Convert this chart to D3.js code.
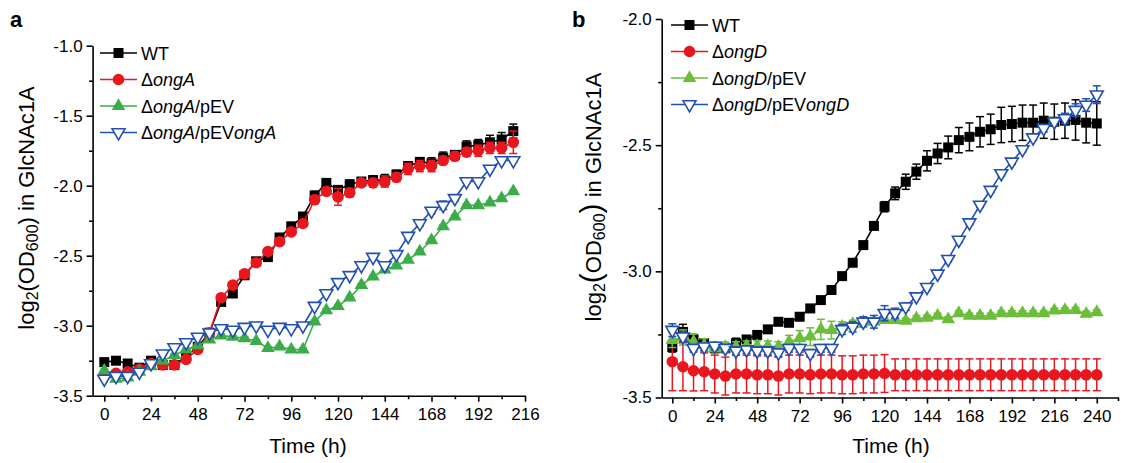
<!DOCTYPE html>
<html>
<head>
<meta charset="utf-8">
<script src="https://cdn.jsdelivr.net/npm/d3@7"></script>
<style>
  body { margin: 0; background: #fff; }
  text { font-family: "Liberation Sans", Arial, Helvetica, sans-serif; }
</style>
</head>
<body>
<div id="vis"></div>
<script>
// ---------- data, panel a ----------
var timeA = [0, 6, 12, 18, 24, 30, 36, 42, 48, 54, 60, 66, 72, 78, 84, 90, 96, 102,
             108, 114, 120, 126, 132, 138, 144, 150, 156, 162, 168, 174, 180, 186, 192, 198, 204, 210];
var wtA    = [-3.26, -3.25, -3.27, -3.30, -3.25, -3.28, -3.28, -3.22, -3.15, -3.05, -2.83, -2.77,
              -2.64, -2.54, -2.51, -2.37, -2.29, -2.22, -2.07, -1.98, -2.03, -1.99, -1.97, -1.96,
              -1.96, -1.92, -1.86, -1.83, -1.84, -1.80, -1.78, -1.72, -1.71, -1.69, -1.67, -1.61];
var wtAErr = [0.01, 0.01, 0.02, 0.01, 0.01, 0.02, 0.02, 0.02, 0.02, 0.01, 0.02, 0.02,
              0.02, 0.02, 0.02, 0.02, 0.02, 0.02, 0.03, 0.02, 0.03, 0.03, 0.02, 0.03,
              0.04, 0.03, 0.03, 0.03, 0.04, 0.04, 0.03, 0.04, 0.04, 0.05, 0.05, 0.05];
var ongA    = [-3.36, -3.34, -3.33, -3.31, -3.27, -3.28, -3.28, -3.24, -3.17, -3.05, -2.80, -2.71,
               -2.63, -2.55, -2.47, -2.40, -2.33, -2.27, -2.10, -2.04, -2.08, -2.05, -1.98, -1.98,
               -1.97, -1.94, -1.88, -1.86, -1.86, -1.82, -1.79, -1.76, -1.75, -1.73, -1.73, -1.69];
var ongAErr = [0.01, 0.01, 0.02, 0.02, 0.02, 0.02, 0.02, 0.02, 0.01, 0.01, 0.01, 0.01,
               0.01, 0.02, 0.01, 0.02, 0.01, 0.02, 0.03, 0.02, 0.06, 0.03, 0.02, 0.03,
               0.04, 0.03, 0.04, 0.04, 0.04, 0.03, 0.03, 0.03, 0.04, 0.04, 0.04, 0.08];
var ongApEV    = [-3.32, -3.38, -3.37, -3.33, -3.29, -3.25, -3.21, -3.17, -3.14, -3.10, -3.07, -3.08,
                  -3.09, -3.11, -3.16, -3.15, -3.17, -3.17, -2.97, -2.89, -2.86, -2.80, -2.71, -2.65,
                  -2.60, -2.57, -2.53, -2.47, -2.39, -2.29, -2.22, -2.14, -2.14, -2.12, -2.09, -2.04];
var ongApEVErr = [0.01, 0.01, 0.01, 0.01, 0.01, 0.01, 0.01, 0.01, 0.01, 0.01, 0.01, 0.01,
                  0.01, 0.01, 0.01, 0.01, 0.01, 0.01, 0.01, 0.01, 0.01, 0.01, 0.01, 0.01,
                  0.01, 0.01, 0.01, 0.01, 0.01, 0.01, 0.01, 0.01, 0.01, 0.01, 0.01, 0.01];
var ongApEVongA    = [-3.38, -3.36, -3.36, -3.33, -3.27, -3.20, -3.155, -3.12, -3.08, -3.05, -3.02, -3.03,
                      -3.01, -3.00, -3.03, -3.01, -3.02, -3.00, -2.86, -2.77, -2.69, -2.64, -2.57, -2.51,
                      -2.57, -2.49, -2.36, -2.27, -2.18, -2.14, -2.09, -1.97, -1.97, -1.88, -1.82, -1.82];
var ongApEVongAErr = [0.01, 0.01, 0.01, 0.01, 0.01, 0.01, 0.01, 0.01, 0.01, 0.01, 0.01, 0.01,
                      0.01, 0.01, 0.01, 0.01, 0.01, 0.01, 0.01, 0.01, 0.01, 0.01, 0.01, 0.01,
                      0.01, 0.01, 0.02, 0.02, 0.02, 0.03, 0.02, 0.01, 0.01, 0.01, 0.01, 0.01];

// ---------- data, panel b ----------
var timeB = [0, 6, 12, 18, 24, 30, 36, 42, 48, 54, 60, 66, 72, 78, 84, 90, 96, 102, 108, 114, 120,
             126, 132, 138, 144, 150, 156, 162, 168, 174, 180, 186, 192, 198, 204, 210, 216, 222, 228, 234, 240];
var wtB    = [-3.30, -3.24, -3.27, -3.285, -3.305, -3.305, -3.285, -3.27, -3.252, -3.23, -3.20,
              -3.204, -3.18, -3.147, -3.114, -3.074, -3.019, -2.966, -2.896, -2.82, -2.744,
              -2.691, -2.645, -2.605, -2.562, -2.533, -2.509, -2.48, -2.467, -2.447, -2.437,
              -2.42, -2.416, -2.411, -2.411, -2.403, -2.407, -2.403, -2.40, -2.411, -2.414];
var wtBErr = [0.02, 0.03, 0.02, 0.015, 0.01, 0.01, 0.02, 0.01, 0.01, 0.01, 0.01,
              0.01, 0.01, 0.01, 0.01, 0.01, 0.01, 0.01, 0.01, 0.015, 0.02,
              0.025, 0.03, 0.03, 0.04, 0.04, 0.045, 0.05, 0.055, 0.06, 0.06,
              0.07, 0.07, 0.07, 0.07, 0.07, 0.07, 0.07, 0.08, 0.08, 0.086];
var ongD    = [-3.358, -3.378, -3.394, -3.398, -3.407, -3.415, -3.407, -3.407, -3.41, -3.41, -3.415,
               -3.407, -3.407, -3.41, -3.407, -3.407, -3.41, -3.41, -3.407, -3.407, -3.405,
               -3.41, -3.41, -3.41, -3.41, -3.41, -3.41, -3.41, -3.41, -3.41, -3.41,
               -3.41, -3.41, -3.41, -3.41, -3.41, -3.41, -3.41, -3.41, -3.41, -3.41];
var ongDErr = [0.115, 0.095, 0.08, 0.075, 0.075, 0.075, 0.075, 0.075, 0.075, 0.075, 0.075,
               0.075, 0.075, 0.075, 0.075, 0.075, 0.075, 0.075, 0.075, 0.075, 0.075,
               0.063, 0.063, 0.063, 0.063, 0.063, 0.063, 0.063, 0.063, 0.063, 0.063,
               0.063, 0.063, 0.063, 0.063, 0.063, 0.063, 0.063, 0.063, 0.063, 0.063];
var ongDpEV    = [-3.272, -3.262, -3.279, -3.292, -3.305, -3.30, -3.299, -3.296, -3.296, -3.296, -3.299,
                  -3.279, -3.265, -3.259, -3.23, -3.233, -3.22, -3.209, -3.20, -3.20, -3.193,
                  -3.193, -3.196, -3.186, -3.184, -3.176, -3.19, -3.166, -3.176, -3.176, -3.176,
                  -3.166, -3.166, -3.166, -3.166, -3.166, -3.156, -3.154, -3.154, -3.168, -3.162];
var ongDpEVErr = [0.03, 0.03, 0.03, 0.025, 0.02, 0.02, 0.02, 0.02, 0.02, 0.02, 0.02,
                  0.025, 0.03, 0.035, 0.04, 0.035, 0.02, 0.015, 0.01, 0.01, 0.01,
                  0.01, 0.01, 0.01, 0.01, 0.01, 0.01, 0.01, 0.01, 0.01, 0.01,
                  0.01, 0.01, 0.01, 0.01, 0.01, 0.01, 0.01, 0.01, 0.01, 0.01];
var ongDpEVongD    = [-3.233, -3.259, -3.305, -3.299, -3.296, -3.305, -3.315, -3.31, -3.315, -3.315, -3.322,
                      -3.305, -3.305, -3.325, -3.305, -3.305, -3.23, -3.22, -3.20, -3.20, -3.166,
                      -3.166, -3.14, -3.10, -3.063, -3.01, -2.952, -2.876, -2.807, -2.737, -2.678,
                      -2.612, -2.566, -2.517, -2.47, -2.433, -2.407, -2.394, -2.361, -2.341, -2.30];
var ongDpEVongDErr = [0.025, 0.02, 0.015, 0.015, 0.015, 0.015, 0.015, 0.015, 0.015, 0.015, 0.015,
                      0.015, 0.015, 0.015, 0.015, 0.015, 0.02, 0.02, 0.02, 0.025, 0.03,
                      0.02, 0.015, 0.01, 0.01, 0.01, 0.01, 0.01, 0.01, 0.01, 0.01,
                      0.01, 0.01, 0.01, 0.01, 0.015, 0.015, 0.02, 0.025, 0.025, 0.035];

var ticksA = [0, 24, 48, 72, 96, 120, 144, 168, 192, 216];
var ticksB = [0, 24, 48, 72, 96, 120, 144, 168, 192, 216, 240];
var minorA = [12, 36, 60, 84, 108, 132, 156, 180, 204];
var minorB = [12, 36, 60, 84, 108, 132, 156, 180, 204, 228, 252];
var yTicksA = [-3.5, -3.0, -2.5, -2.0, -1.5, -1.0];
var yMinorA = [-3.25, -2.75, -2.25, -1.75, -1.25];
var yTicksB = [-3.5, -3.0, -2.5, -2.0];
var yMinorB = [-3.25, -2.75, -2.25];

var black = "#000000", red = "#e8161d", greenA = "#3aad48", greenB = "#6cbe3a", blue = "#2150b0";

var svg = d3.select("#vis").append("svg")
  .attr("width", 1121)
  .attr("height", 463);

var sym = {
  square:   d3.symbol().type(d3.symbolSquare).size(100),
  circle:   d3.symbol().type(d3.symbolCircle).size(105),
  triangle: d3.symbol().type(d3.symbolTriangle).size(80),
  down:     d3.symbol().type(d3.symbolTriangle).size(72)
};

function drawPanel(p) {
  var x = d3.scaleLinear().domain(p.xDomain).range(p.xRange);
  var y = d3.scaleLinear().domain(p.yDomain).range(p.yRange);
  var g = svg.append("g");
  var y0 = p.yRange[0], x0 = p.xRange[0];

  // axes
  g.append("g").attr("transform", "translate(0," + y0 + ")")
    .call(d3.axisBottom(x).tickValues(p.xTicks).tickSize(6).tickPadding(6).tickSizeOuter(0));
  g.append("g").attr("transform", "translate(0," + y0 + ")")
    .call(d3.axisBottom(x).tickValues(p.xMinor).tickSize(3.5).tickFormat("").tickSizeOuter(0))
    .select(".domain").remove();
  var gy = g.append("g").attr("transform", "translate(" + x0 + ",0)")
    .call(d3.axisLeft(y).tickValues(p.yTicks).tickSize(6).tickPadding(4).tickSizeOuter(0)
      .tickFormat(d3.format(".1f")));
  g.append("g").attr("transform", "translate(" + x0 + ",0)")
    .call(d3.axisLeft(y).tickValues(p.yMinor).tickSize(3.5).tickFormat("").tickSizeOuter(0))
    .select(".domain").remove();

  g.selectAll(".domain, .tick line").attr("stroke", "#000").attr("stroke-width", 1.6);
  g.selectAll(".tick text").attr("fill", "#000").style("font-size", "17px")
    .style("font-family", '"Liberation Sans", Arial, sans-serif');
  gy.selectAll(".tick text").text(function(d) { return d3.format(".1f")(d).replace("−", "-"); });

  // axis titles
  g.append("text")
    .attr("x", p.xTitle[0]).attr("y", p.xTitle[1])
    .attr("text-anchor", "middle").style("font-size", "21px")
    .text("Time (h)");

  var yt = g.append("text")
    .attr("transform", "translate(" + p.yTitle[0] + "," + p.yTitle[1] + ") rotate(-90)")
    .attr("text-anchor", "middle").style("font-size", "22px");
  yt.append("tspan").text("log");
  yt.append("tspan").attr("baseline-shift", "-25%").style("font-size", "16px").text("2");
  yt.append("tspan").style("font-size", p.parenSize).text("(");
  yt.append("tspan").text("OD");
  yt.append("tspan").attr("baseline-shift", "-25%").style("font-size", "16px").text("600");
  yt.append("tspan").style("font-size", p.parenSize).text(")");
  yt.append("tspan").text(" in GlcNAc1A");

  // panel letter
  g.append("text").attr("x", p.letter[0]).attr("y", p.letter[1])
    .style("font-size", "22px").style("font-weight", "bold").text(p.name);

  // series
  p.series.forEach(function(s) {
    var pts = p.time.map(function(t, i) { return { t: t, v: s.values[i], e: s.err[i] }; });
    var line = d3.line().x(function(d) { return x(d.t); }).y(function(d) { return y(d.v); });
    var sg = g.append("g");
    sg.append("path").datum(pts).attr("d", line)
      .attr("fill", "none").attr("stroke", s.color).attr("stroke-width", 1.6);
    var eb = sg.append("g").selectAll("g").data(pts).enter().append("g")
      .attr("stroke", s.color).attr("stroke-width", 1.5);
    eb.append("line")
      .attr("x1", function(d) { return x(d.t); }).attr("x2", function(d) { return x(d.t); })
      .attr("y1", function(d) { return y(d.v - d.e); }).attr("y2", function(d) { return y(d.v + d.e); });
    eb.append("line")
      .attr("x1", function(d) { return x(d.t) - 4; }).attr("x2", function(d) { return x(d.t) + 4; })
      .attr("y1", function(d) { return y(d.v + d.e); }).attr("y2", function(d) { return y(d.v + d.e); });
    eb.append("line")
      .attr("x1", function(d) { return x(d.t) - 4; }).attr("x2", function(d) { return x(d.t) + 4; })
      .attr("y1", function(d) { return y(d.v - d.e); }).attr("y2", function(d) { return y(d.v - d.e); });
    sg.append("g").selectAll("path").data(pts).enter().append("path")
      .attr("d", sym[s.shape])
      .attr("transform", function(d) {
        return "translate(" + x(d.t) + "," + y(d.v) + ")" + (s.shape === "down" ? " rotate(180)" : "");
      })
      .attr("fill", s.open ? "#fff" : s.color)
      .attr("stroke", s.color).attr("stroke-width", s.open ? 1.6 : 0);
  });

  // legend
  p.series.forEach(function(s, i) {
    var ly = p.legend[1] + i * 26.5;
    var lx = p.legend[0];
    g.append("line").attr("x1", lx).attr("x2", lx + 37).attr("y1", ly).attr("y2", ly)
      .attr("stroke", s.color).attr("stroke-width", 1.6);
    g.append("path").attr("d", sym[s.shape])
      .attr("transform", "translate(" + (lx + 18.5) + "," + ly + ")" + (s.shape === "down" ? " rotate(180)" : ""))
      .attr("fill", s.open ? "#fff" : s.color)
      .attr("stroke", s.color).attr("stroke-width", s.open ? 1.6 : 0);
    var t = g.append("text").attr("x", lx + 41).attr("y", ly + 6.5).style("font-size", "18px");
    s.label.forEach(function(part) {
      t.append("tspan").style("font-style", part[1] ? "italic" : "normal").text(part[0]);
    });
  });
}

drawPanel({
  name: "a", letter: [10, 27],
  xDomain: [-6, 216], xRange: [92.6, 525],
  yDomain: [-3.5, -1.0], yRange: [395.7, 45.7],
  xTicks: ticksA, xMinor: minorA, yTicks: yTicksA, yMinor: yMinorA,
  xTitle: [308, 453], yTitle: [34, 208], parenSize: "22px",
  legend: [100, 53],
  time: timeA,
  series: [
    { values: wtA, err: wtAErr, color: black, shape: "square", label: [["WT", false]] },
    { values: ongA, err: ongAErr, color: red, shape: "circle", label: [["\u0394", false], ["ongA", true]] },
    { values: ongApEV, err: ongApEVErr, color: greenA, shape: "triangle",
      label: [["\u0394", false], ["ongA", true], ["/pEV", false]] },
    { values: ongApEVongA, err: ongApEVongAErr, color: blue, shape: "down", open: true,
      label: [["\u0394", false], ["ongA", true], ["/pEV", false], ["ongA", true]] }
  ]
});

drawPanel({
  name: "b", letter: [572, 27],
  xDomain: [-6, 252], xRange: [661.7, 1118],
  yDomain: [-3.5, -2.0], yRange: [397.5, 19],
  xTicks: ticksB, xMinor: minorB, yTicks: yTicksB, yMinor: yMinorB,
  xTitle: [891, 453], yTitle: [601, 197], parenSize: "30px",
  legend: [671, 25],
  time: timeB,
  series: [
    { values: wtB, err: wtBErr, color: black, shape: "square", label: [["WT", false]] },
    { values: ongD, err: ongDErr, color: red, shape: "circle", label: [["\u0394", false], ["ongD", true]] },
    { values: ongDpEV, err: ongDpEVErr, color: greenB, shape: "triangle",
      label: [["\u0394", false], ["ongD", true], ["/pEV", false]] },
    { values: ongDpEVongD, err: ongDpEVongDErr, color: blue, shape: "down", open: true,
      label: [["\u0394", false], ["ongD", true], ["/pEV", false], ["ongD", true]] }
  ]
});
</script>
</body>
</html>
